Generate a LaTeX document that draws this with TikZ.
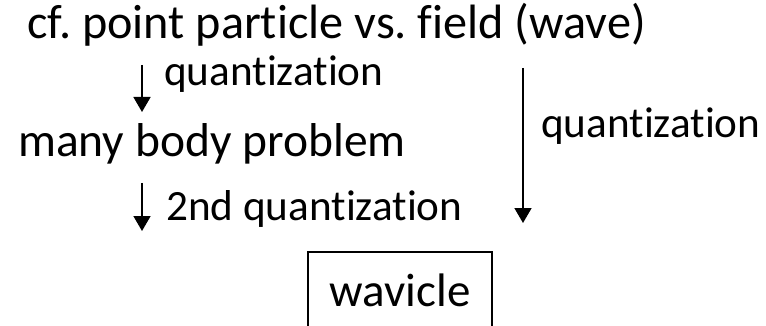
\documentclass[tikz,border=0pt]{standalone}
\usepackage{fontspec}
\setmainfont[RawFeature={-liga,-clig}]{Carlito}
\frenchspacing
\usetikzlibrary{arrows.meta,positioning}
\tikzset{
  nagy/.style={inner sep=0pt,anchor=base west,font=\fontsize{47.5}{56}\selectfont},
  kis/.style={inner sep=0pt,anchor=base west,font=\fontsize{43.2}{50}\selectfont},
  doboz/.style={draw,line width=1.2pt,inner sep=0pt,anchor=base,font=\fontsize{47}{56}\selectfont,
                text height=54pt,text depth=32pt,minimum width=184pt},
  nyil/.style={-{Triangle[width=17pt,length=15pt]},line width=1.6pt},
}
\begin{document}
\begin{tikzpicture}[x=1pt,y=-1pt]
  \useasboundingbox (0,0) rectangle (766,326);
  % texts
  \node[nagy,font=\fontsize{48.2}{56}\selectfont] (cf) at (27,39) {cf. point particle vs. field (wave)};
  \node[nagy] (many) at (18,157) {many body problem};
  \node[kis] (q1) at (164,86) {quantization};
  \node[kis] (q2) at (166,220) {2nd quantization};
  \node[kis] (q3) at (541,138) {quantization};
  \node[doboz] (wav) at (400,306) {wavicle};
  % arrows
  \coordinate (a1) at (142,65);  \coordinate (b1) at (142,112);
  \coordinate (a2) at (142,183); \coordinate (b2) at (142,231);
  \coordinate (a3) at (523,68);  \coordinate (b3) at (523,223);
  \draw[nyil] (a1) -- (b1);
  \draw[nyil] (a2) -- (b2);
  \draw[nyil] (a3) -- (b3);
\end{tikzpicture}
\end{document}
